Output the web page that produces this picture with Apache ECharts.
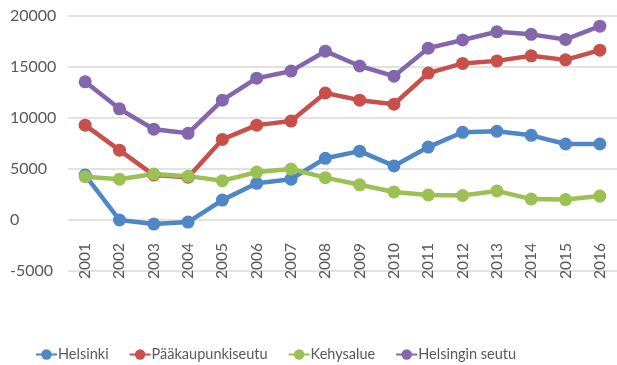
<!DOCTYPE html>
<html>
<head>
<meta charset="utf-8">
<script src="https://cdn.jsdelivr.net/npm/echarts@6/dist/echarts.min.js"></script>
<style>
  html, body { margin: 0; padding: 0; background: #ffffff; }
  #chart { width: 617px; height: 365px; }
</style>
</head>
<body>
<div id="chart"></div>
<script>
// Years on the category axis
const years = ['2001','2002','2003','2004','2005','2006','2007','2008',
               '2009','2010','2011','2012','2013','2014','2015','2016'];

// Series values per year
const helsinki = [4400, 0, -400, -200, 1950, 3600, 4000, 6050,
                  6750, 5300, 7150, 8600, 8700, 8300, 7450, 7450];
const paakaupunkiseutu = [9300, 6850, 4400, 4200, 7900, 9300, 9700, 12450,
                          11750, 11350, 14400, 15350, 15600, 16100, 15700, 16650];
const kehysalue = [4250, 4000, 4500, 4300, 3850, 4700, 5000, 4150,
                   3450, 2750, 2450, 2400, 2850, 2050, 2000, 2350];
const helsinginSeutu = [13550, 10900, 8900, 8500, 11750, 13900, 14600, 16550,
                        15100, 14100, 16850, 17650, 18450, 18200, 17700, 19000];

const seriesNames = ['Helsinki', 'Pääkaupunkiseutu', 'Kehysalue', 'Helsingin seutu'];
const seriesColors = ['#4f86c6', '#c8504b', '#9bc054', '#8466ac'];
const seriesData = [helsinki, paakaupunkiseutu, kehysalue, helsinginSeutu];

const font = 'Lato';
const textColor = '#595959';

// Pixel distance between the bottom of the plot (-5000) and the zero line
const yMin = -5000, yMax = 20000;
const gridTop = 16, gridBottom = 94, chartHeight = 365;
const plotHeight = chartHeight - gridTop - gridBottom;
const zeroOffset = plotHeight * (0 - yMin) / (yMax - yMin);

const chart = echarts.init(document.getElementById('chart'), null, { renderer: 'canvas' });

chart.setOption({
  animation: false,
  backgroundColor: '#ffffff',
  textStyle: { fontFamily: font },
  grid: { left: 68, right: 0, top: gridTop, bottom: gridBottom, containLabel: false },
  legend: {
    top: 342,
    left: 30,
    itemGap: 20,
    itemWidth: 21,
    itemHeight: 13,
    data: seriesNames,
    textStyle: { fontFamily: font, fontSize: 14.5, color: textColor, padding: [0, 0, 0, -4] }
  },
  xAxis: {
    type: 'category',
    data: years,
    boundaryGap: true,
    position: 'bottom',
    offset: -zeroOffset,
    axisLine: { show: false, onZero: false },
    axisTick: { show: false },
    axisLabel: {
      rotate: 90,
      margin: 23,
      fontFamily: font,
      fontSize: 15.5,
      color: textColor
    }
  },
  yAxis: {
    type: 'value',
    min: yMin,
    max: yMax,
    interval: 5000,
    axisLine: { show: false },
    axisTick: { show: false },
    splitLine: { lineStyle: { color: '#d9d9d9', width: 1.5 } },
    axisLabel: {
      align: 'left',
      margin: 58,
      fontFamily: font,
      fontSize: 16,
      color: textColor,
      formatter: v => String(v)
    }
  },
  series: seriesData.map((d, i) => ({
    name: seriesNames[i],
    type: 'line',
    data: d,
    symbol: 'circle',
    symbolSize: 13,
    color: seriesColors[i],
    lineStyle: { width: 4.5, color: seriesColors[i] },
    itemStyle: { color: seriesColors[i] }
  }))
});
</script>
</body>
</html>
